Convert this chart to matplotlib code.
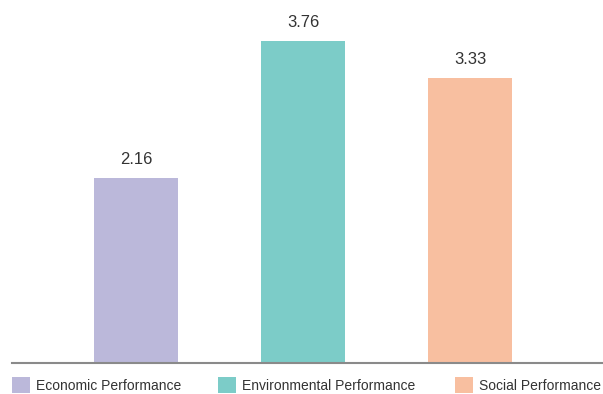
import matplotlib
matplotlib.use('Agg')
import matplotlib.pyplot as plt
import numpy as np

plt.rcParams['font.family'] = ['Liberation Sans', 'DejaVu Sans']

# Performance scores
categories = ['Economic Performance', 'Environmental Performance', 'Social Performance']
scores = [2.16, 3.76, 3.33]
colors = ['#BBB8DA', '#7CCCC8', '#F8BFA0']

fig = plt.figure(figsize=(6.03, 3.94), dpi=100)
ax = fig.add_axes([12 / 603, 31 / 394, 591 / 603, 363 / 394])

x = np.arange(len(categories))
bars = ax.bar(x, scores, width=0.503, color=colors)

for xi, v in zip(x, scores):
    ax.text(xi, v + 0.13, f'{v:.2f}', ha='center', va='bottom',
            fontsize=12, color='#333333')

ax.set_xlim(-0.743, 2.796)
ax.set_ylim(0, 4.24)
for s in ['top', 'right', 'left']:
    ax.spines[s].set_visible(False)
ax.spines['bottom'].set_color('#8a8a8a')
ax.spines['bottom'].set_linewidth(1.5)
ax.set_xticks([])
ax.set_yticks([])

# one legend entry per block, spread along the bottom
legend_x = [12, 218, 455]
for bar, label, lx in zip(bars, categories, legend_x):
    leg = fig.legend([bar], [label], loc='center left',
                     bbox_to_anchor=(lx / 603, 1 - 385 / 394),
                     frameon=False, fontsize=10, handlelength=1.3,
                     handleheight=1.3, handletextpad=0.45,
                     borderpad=0, borderaxespad=0, labelcolor='#333333')

fig.savefig('out.png', dpi=100)
